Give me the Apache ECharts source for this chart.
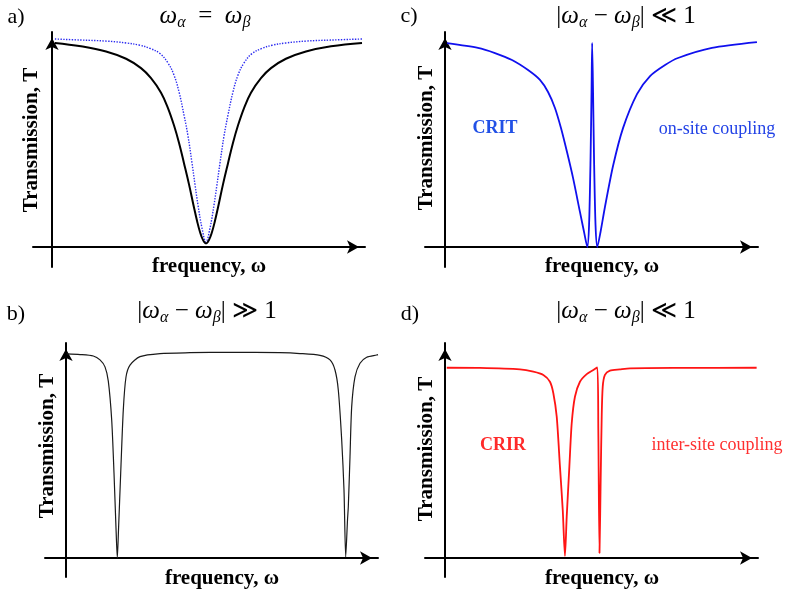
<!DOCTYPE html>
<html><head><meta charset="utf-8">
<script src="https://cdn.jsdelivr.net/npm/echarts@6.0.0/dist/echarts.min.js"></script>
<style>html,body{margin:0;padding:0;background:#fff}#c{width:789px;height:591px}</style>
</head><body><div id="c"></div>
<script>
// ---- Data (frequency ω in arbitrary units, transmission T) ----
// a) ω_α = ω_β : black solid and blue dotted
const aBlack = [[0.019,0.981],[0.188,0.965],[0.351,0.940],[0.481,0.905],[0.578,0.860],[0.643,0.812],[0.708,0.742],[0.753,0.668],[0.792,0.585],[0.825,0.500],[0.857,0.403],[0.890,0.300],[0.922,0.190],[0.942,0.125],[0.961,0.072],[0.981,0.033],[1.000,0.017],[1.019,0.033],[1.039,0.072],[1.058,0.125],[1.078,0.190],[1.110,0.300],[1.143,0.403],[1.175,0.500],[1.208,0.585],[1.247,0.668],[1.292,0.742],[1.357,0.812],[1.422,0.860],[1.519,0.905],[1.649,0.940],[1.812,0.965],[2.013,0.981]];
const aBlue = [[0.019,1.000],[0.188,0.995],[0.351,0.990],[0.481,0.981],[0.571,0.970],[0.636,0.955],[0.701,0.930],[0.753,0.885],[0.792,0.827],[0.825,0.745],[0.857,0.635],[0.883,0.534],[0.909,0.404],[0.929,0.298],[0.948,0.202],[0.974,0.091],[1.000,0.024],[1.026,0.091],[1.052,0.202],[1.071,0.298],[1.091,0.404],[1.117,0.534],[1.143,0.635],[1.175,0.745],[1.208,0.827],[1.247,0.885],[1.299,0.930],[1.364,0.955],[1.429,0.970],[1.519,0.981],[1.649,0.990],[1.812,0.995],[2.013,1.000]];
// b) |ω_α − ω_β| ≫ 1
const bCurve = [[0.007,0.992],[0.14,0.989],[0.273,0.982],[0.34,0.963],[0.39,0.929],[0.423,0.860],[0.457,0.671],[0.48,0.413],[0.50,0.146],[0.513,0.0],[0.525,0.136],[0.547,0.413],[0.573,0.720],[0.60,0.880],[0.64,0.938],[0.74,0.979],[0.94,0.994],[1.24,0.998],[1.64,1.0],[2.14,0.998],[2.34,0.994],[2.54,0.985],[2.64,0.963],[2.69,0.914],[2.723,0.817],[2.757,0.574],[2.78,0.331],[2.797,0.005],[2.815,0.185],[2.823,0.249],[2.84,0.492],[2.857,0.736],[2.89,0.881],[2.94,0.947],[3.007,0.976],[3.107,0.987],[3.12,0.989]];
// c) CRIT, on-site coupling
const cCurve = [[0.014,0.994],[0.224,0.971],[0.340,0.946],[0.456,0.912],[0.565,0.863],[0.646,0.815],[0.701,0.756],[0.748,0.678],[0.789,0.580],[0.830,0.463],[0.871,0.337],[0.918,0.171],[0.946,0.073],[0.968,0.0],[0.980,0.107],[0.990,0.424],[0.997,0.766],[1.001,0.995],[1.007,0.766],[1.014,0.424],[1.024,0.107],[1.036,0.0],[1.058,0.073],[1.088,0.195],[1.143,0.395],[1.211,0.580],[1.306,0.746],[1.395,0.834],[1.497,0.888],[1.585,0.922],[1.816,0.971],[2.122,0.999]];
// d) CRIR, inter-site coupling
const dCurve = [[0.012,0.925],[0.238,0.924],[0.510,0.917],[0.601,0.906],[0.669,0.890],[0.714,0.857],[0.737,0.801],[0.760,0.687],[0.782,0.444],[0.801,0.233],[0.816,0.010],[0.828,0.201],[0.846,0.444],[0.862,0.655],[0.884,0.784],[0.918,0.857],[0.964,0.894],[1.009,0.914],[1.036,0.927],[1.043,0.622],[1.051,0.024],[1.059,0.379],[1.066,0.687],[1.073,0.833],[1.088,0.890],[1.122,0.911],[1.190,0.917],[1.259,0.922],[1.599,0.924],[2.120,0.925]];

const panelLabels = ['a)','c)','b)','d)'];
const yTitle = 'Transmission, T';
const xTitle = 'frequency, ω';

// ---- Layout ----
const grids = [
  {left:33, top:32, width:332, height:235},
  {left:425, top:32, width:333, height:235},
  {left:45, top:343, width:333, height:234},
  {left:425, top:343, width:333, height:234}
];
const ranges = [
  {x:[-0.12338,2.03247], y:[-0.09615,1.03365]},
  {x:[-0.13605,2.12925], y:[-0.09756,1.04878]},
  {x:[-0.21,3.12], y:[-0.09237,1.04521]},
  {x:[-0.13605,2.12925], y:[-0.09237,1.04521]}
];
const axisLine = {show:true, onZero:true, symbol:['none','arrow'], symbolSize:[10,12], symbolOffset:[0,-6], lineStyle:{color:'#000', width:2}};
const xAxes = ranges.map((r,i)=>({type:'value', gridIndex:i, min:r.x[0], max:r.x[1], axisLine:axisLine, axisTick:{show:false}, axisLabel:{show:false}, splitLine:{show:false}}));
const yAxes = ranges.map((r,i)=>({type:'value', gridIndex:i, min:r.y[0], max:r.y[1], axisLine:axisLine, axisTick:{show:false}, axisLabel:{show:false}, splitLine:{show:false}}));

function line(data, idx, color, width, type, smooth){
  return {type:'line', xAxisIndex:idx, yAxisIndex:idx, data:data, showSymbol:false, smooth:smooth, silent:true,
    lineStyle:{color:color, width:width, type:type||'solid'}};
}
const series = [
  line(aBlue, 0, '#2a2af0', 1.4, 'dotted', 0.4),
  line(aBlack, 0, '#000000', 2, 'solid', 0.4),
  line(cCurve, 1, '#1010ee', 1.8, 'solid', 0.25),
  line(bCurve, 2, '#1a1a1a', 1.2, 'solid', 0.25),
  line(dCurve, 3, '#ff1414', 1.8, 'solid', 0.25)
];

const serif = "'Liberation Serif','DejaVu Serif',serif";
const richMath = {
  m:{fontSize:25, fontStyle:'italic', fontFamily:serif, lineHeight:28, padding:[0,0,5,0], verticalAlign:'bottom', color:'#111'},
  s:{fontSize:16, fontStyle:'italic', fontFamily:serif, lineHeight:16, padding:[0,0,3,0], verticalAlign:'bottom', color:'#111'},
  o:{fontSize:25, fontFamily:serif, lineHeight:28, padding:[0,0,5,0], verticalAlign:'bottom', color:'#111'}
};
const titleEq = '{m|ω}{s|α}{o|  =  }{m|ω}{s|β}';
const titleMuch = '{o||}{m|ω}{s|α}{o| − }{m|ω}{s|β}{o|| ≫ 1}';
const titleLess = '{o||}{m|ω}{s|α}{o| − }{m|ω}{s|β}{o|| ≪ 1}';

function txt(x,y,text,font,color,rot){
  return {type:'text', x:x, y:y, rotation:rot||0, silent:true,
    style:{text:text, font:font, fill:color||'#000', align:'center', verticalAlign:'middle'}};
}
function math(x,y,text){
  return {type:'text', x:x, y:y, silent:true,
    style:{text:text, rich:richMath, fontSize:25, fontFamily:serif, align:'center', verticalAlign:'middle'}};
}
const graphics = [
  txt(16,17,panelLabels[0],"22px "+serif),
  txt(409,16,panelLabels[1],"22px "+serif),
  txt(16,314,panelLabels[2],"22px "+serif),
  txt(410,314,panelLabels[3],"22px "+serif),
  math(205,20,titleEq),
  math(626,20,titleLess),
  math(207,315,titleMuch),
  math(626,315,titleLess),
  txt(32,140,yTitle,"bold 21px "+serif,'#000',Math.PI/2),
  txt(427,138,yTitle,"bold 21px "+serif,'#000',Math.PI/2),
  txt(48,446,yTitle,"bold 21px "+serif,'#000',Math.PI/2),
  txt(427,449,yTitle,"bold 21px "+serif,'#000',Math.PI/2),
  txt(209,267,xTitle,"bold 21px "+serif),
  txt(602,267,xTitle,"bold 21px "+serif),
  txt(222,579,xTitle,"bold 21px "+serif),
  txt(602,579,xTitle,"bold 21px "+serif),
  txt(495,128.5,'CRIT',"bold 18px "+serif,'#2150e6'),
  txt(717,129,'on-site coupling',"18px "+serif,'#2242e6'),
  txt(503,445,'CRIR',"bold 18px "+serif,'#ff2a2a'),
  txt(717,445,'inter-site coupling',"18px "+serif,'#ff3030')
];

const chart = echarts.init(document.getElementById('c'), null, {renderer:'canvas'});
chart.setOption({
  animation:false,
  backgroundColor:'#ffffff',
  grid:grids,
  xAxis:xAxes,
  yAxis:yAxes,
  series:series,
  graphic:graphics
});
</script></body></html>
